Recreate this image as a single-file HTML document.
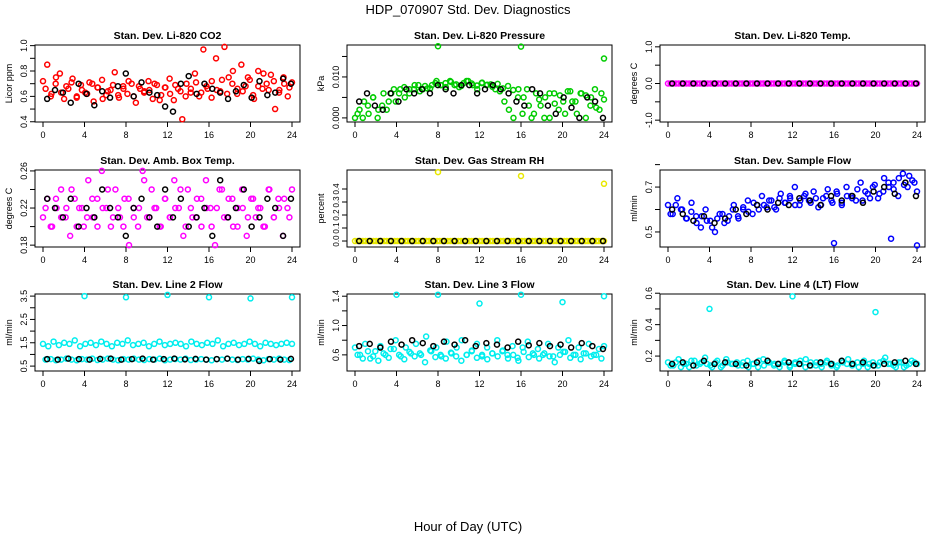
<!DOCTYPE html>
<html><head><meta charset="utf-8"><style>
body{margin:0;background:#fff}
svg{display:block;font-family:"Liberation Sans",sans-serif}
</style></head><body>
<svg id="c" width="936" height="540"></svg>
<script>
const hourTicks=[0,4,8,12,16,20,24];
const titles=["Stan. Dev. Li-820 CO2","Stan. Dev. Li-820 Pressure","Stan. Dev. Li-820 Temp.","Stan. Dev. Amb. Box Temp.","Stan. Dev. Gas Stream RH","Stan. Dev. Sample Flow","Stan. Dev. Line 2 Flow","Stan. Dev. Line 3 Flow","Stan. Dev. Line 4 (LT) Flow"];
const yLabels=["Licor ppm","kPa","degrees C","degrees C","percent","ml/min","ml/min","ml/min","ml/min"];
const yTicks=[[0.4,0.5,0.6,0.7,0.8,0.9,1.0],[0,0.005,0.01,0.015],[-1,-0.5,0,0.5,1],[0.18,0.2,0.22,0.24,0.26],[0,0.1,0.2,0.3,0.4],[0.5,0.6,0.7,0.8],[0.5,1,1.5,2,2.5,3,3.5],[0.6,0.8,1.0,1.2,1.4],[0.2,0.3,0.4,0.5,0.6]];
const yTickLabels=[["0.4","","0.6","","0.8","","1.0"],["0.000","","0.010",""],["-1.0","","0.0","","1.0"],["0.18","","0.22","","0.26"],["0.0","0.1","0.2","0.3","0.4"],["0.5","","0.7",""],["0.5","","1.5","","2.5","","3.5"],["0.6","","1.0","","1.4"],["0.2","","0.4","","0.6"]];
const colors=["#ff0000","#00cc00","#ff00ff","#ff00ff","#e8e800","#0000ff","#00eeee","#00eeee","#00eeee"];
const s1=[0.72,0.85,0.62,0.70,0.78,0.58,0.66,0.74,0.60,0.69,0.63,0.71,0.56,0.67,0.73,0.61,0.65,0.79,0.59,0.68,0.62,0.70,0.55,0.66,0.64,0.72,0.58,0.69,0.61,0.67,0.74,0.57,0.66,0.42,0.70,0.63,0.78,0.60,0.97,0.66,0.72,0.90,0.64,0.99,0.75,0.80,0.62,0.85,0.68,0.73,0.58,0.80,0.66,0.70,0.77,0.50,0.65,0.75,0.60,0.71];
const e1=[0.66,0.60,0.75,0.63,0.68,0.71,0.59,0.65,0.62,0.70,0.67,0.58,0.64,0.69,0.61,0.66,0.72,0.60,0.68,0.63,0.65,0.70,0.57,0.67,0.62,0.69,0.64,0.60,0.66,0.71,0.63,0.68,0.59,0.65,0.73,0.62,0.70,0.66,0.64,0.75,0.61,0.68,0.78,0.65,0.72,0.63,0.70,0.67];
const s2=[0,0.002,0.004,0.001,0.005,0,0.003,0.002,0.006,0.004,0.007,0.005,0.006,0.007,0.008,0.007,0.0072,0.008,0.009,0.008,0.0085,0.009,0.008,0.0075,0.0085,0.009,0.008,0.007,0.0085,0.008,0.0082,0.007,0.0065,0.004,0.002,0,0.005,0.001,0.007,0,0.006,0.003,0.005,0,0.006,0.002,0.004,0.0065,0.004,0.001,0.006,0.0055,0.003,0.007,0.002,0.0045];
const e2=[0.001,0,0.003,0.005,0.002,0.006,0.004,0.007,0.006,0.0075,0.007,0.008,0.0065,0.0078,0.0072,0.0085,0.008,0.0075,0.0088,0.0082,0.0078,0.009,0.0084,0.0079,0.0086,0.0081,0.0076,0.0083,0.0072,0.0078,0.0068,0.007,0.005,0.003,0.001,0.0045,0,0.006,0.0035,0.0055,0.001,0.0065,0.004,0.006,0,0.005,0.0025,0.006];
const s3=[0,0,0,0,0,0,0,0,0,0,0,0,0,0,0,0,0,0,0,0,0,0,0,0,0,0,0,0,0,0,0,0,0,0,0,0,0,0,0,0,0,0,0,0,0,0,0,0];
const e3=[0,0,0,0,0,0,0,0,0,0,0,0,0,0,0,0,0,0,0,0,0,0,0,0,0,0,0,0,0,0,0,0,0,0,0,0,0,0,0,0,0,0,0,0,0,0,0];
const s4=[0.21,0.23,0.20,0.22,0.24,0.21,0.19,0.23,0.22,0.20,0.25,0.21,0.23,0.26,0.22,0.20,0.24,0.21,0.23,0.18,0.22,0.20,0.26,0.21,0.24,0.22,0.20,0.23,0.21,0.25,0.22,0.19,0.24,0.21,0.23,0.20,0.25,0.22,0.18,0.24,0.21,0.23,0.20,0.22,0.24,0.19,0.23,0.21,0.22,0.20,0.24,0.21,0.23,0.19,0.22,0.24];
const e4=[0.22,0.20,0.23,0.21,0.22,0.24,0.20,0.22,0.21,0.23,0.20,0.22,0.24,0.21,0.22,0.20,0.23,0.21,0.22,0.25,0.21,0.22,0.20,0.23,0.21,0.22,0.24,0.20,0.22,0.21,0.23,0.22,0.20,0.22,0.24,0.21,0.23,0.20,0.22,0.21,0.23,0.22,0.20,0.24,0.21,0.22,0.23,0.21];
const s5=[0,0,0,0,0,0,0,0,0,0,0,0,0,0,0,0,0,0,0,0,0,0,0,0,0,0,0,0,0,0,0,0,0,0,0,0,0,0,0,0,0,0,0,0,0,0,0,0];
const e5=[0,0,0,0,0,0,0,0,0,0,0,0,0,0,0,0,0,0,0,0,0,0,0,0,0,0,0,0,0,0,0,0,0,0,0,0,0,0,0,0,0,0,0,0,0,0,0];
const s6=[0.62,0.58,0.65,0.60,0.56,0.63,0.57,0.52,0.60,0.55,0.50,0.58,0.54,0.57,0.62,0.56,0.60,0.64,0.58,0.62,0.66,0.61,0.64,0.60,0.67,0.63,0.65,0.70,0.62,0.66,0.64,0.68,0.61,0.65,0.69,0.63,0.67,0.62,0.70,0.66,0.64,0.72,0.68,0.65,0.71,0.67,0.74,0.70,0.72,0.66,0.76,0.70,0.73,0.68];
const e6=[0.58,0.62,0.6,0.56,0.59,0.54,0.57,0.55,0.52,0.56,0.58,0.55,0.6,0.57,0.61,0.59,0.63,0.6,0.62,0.64,0.61,0.65,0.63,0.66,0.62,0.64,0.67,0.63,0.65,0.62,0.66,0.64,0.68,0.63,0.66,0.65,0.69,0.64,0.67,0.7,0.65,0.68,0.72,0.69,0.74,0.71,0.75,0.72];
const s7=[1.45,1.35,1.55,1.4,1.5,1.45,1.6,1.35,1.45,1.5,1.4,1.55,1.45,1.35,1.5,1.45,1.6,1.4,1.45,1.5,1.35,1.45,1.55,1.4,1.45,1.5,1.45,1.35,1.55,1.45,1.4,1.5,1.45,1.6,1.35,1.45,1.5,1.4,1.45,1.55,1.45,1.35,1.5,1.45,1.4,1.45,1.5,1.45];
const e7=[0.78,0.8,0.75,0.78,0.82,0.78,0.75,0.8,0.78,0.82,0.76,0.78,0.82,0.78,0.75,0.8,0.78,0.82,0.78,0.76,0.8,0.78,0.82,0.75,0.78,0.8,0.78,0.82,0.76,0.78,0.8,0.78,0.75,0.8,0.78,0.82,0.78,0.76,0.8,0.78,0.82,0.78,0.75,0.8,0.78,0.82,0.78,0.76];
const s8=[0.7,0.6,0.75,0.55,0.65,0.72,0.6,0.68,0.8,0.58,0.7,0.62,0.75,0.6,0.85,0.65,0.7,0.58,0.78,0.62,0.7,0.8,0.6,0.66,0.75,0.58,0.7,0.62,0.8,0.65,0.6,0.72,0.56,0.7,0.78,0.62,0.68,0.6,0.75,0.58,0.7,0.64,0.8,0.6,0.7,0.62,0.75,0.6,0.68,0.72];
const e8=[0.6,0.55,0.65,0.58,0.52,0.62,0.56,0.68,0.6,0.54,0.64,0.58,0.62,0.5,0.66,0.57,0.6,0.55,0.63,0.58,0.52,0.6,0.65,0.56,0.6,0.54,0.62,0.58,0.66,0.55,0.6,0.52,0.64,0.57,0.6,0.55,0.62,0.58,0.5,0.6,0.64,0.56,0.6,0.54,0.62,0.58,0.6,0.55];
const s9=[0.16,0.14,0.18,0.15,0.13,0.17,0.15,0.19,0.14,0.16,0.13,0.18,0.15,0.16,0.14,0.17,0.15,0.13,0.18,0.16,0.14,0.15,0.17,0.13,0.16,0.15,0.18,0.14,0.16,0.13,0.17,0.15,0.14,0.16,0.18,0.15,0.13,0.17,0.15,0.14,0.16,0.19,0.15,0.13,0.16,0.14,0.17,0.15];
const e9=[0.14,0.16,0.13,0.15,0.17,0.14,0.16,0.15,0.13,0.17,0.14,0.16,0.15,0.14,0.16,0.13,0.15,0.17,0.14,0.16,0.15,0.13,0.16,0.14,0.15,0.17,0.13,0.16,0.14,0.15,0.16,0.14,0.13,0.17,0.15,0.14,0.16,0.15,0.13,0.16,0.14,0.17,0.15,0.14,0.16,0.13,0.15,0.16];
const b1=[0.58,0.65,0.63,0.55,0.70,0.62,0.53,0.64,0.59,0.68,0.78,0.60,0.71,0.63,0.61,0.52,0.48,0.70,0.76,0.62,0.70,0.66,0.63,0.58,0.64,0.69,0.59,0.72,0.61,0.63,0.74,0.70];
const b2=[0.004,0.006,0.003,0.002,0.006,0.004,0.007,0.006,0.007,0.006,0.008,0.007,0.006,0.008,0.008,0.006,0.007,0.008,0.007,0.006,0.004,0.003,0.007,0.006,0.003,0.001,0.005,0.0025,0,0.005,0.004,0];
const b3=[0,0,0,0,0,0,0,0,0,0,0,0,0,0,0,0,0,0,0,0,0,0,0,0];
const b4=[0.23,0.22,0.21,0.23,0.20,0.22,0.21,0.24,0.22,0.21,0.19,0.22,0.23,0.21,0.20,0.24,0.21,0.23,0.20,0.21,0.22,0.19,0.25,0.21,0.22,0.24,0.20,0.21,0.23,0.22,0.19,0.23];
const b5=[0,0,0,0,0,0,0,0,0,0,0,0,0,0,0,0,0,0,0,0,0,0,0,0];
const b6=[0.6,0.58,0.55,0.57,0.54,0.56,0.6,0.58,0.62,0.6,0.63,0.62,0.65,0.64,0.62,0.66,0.64,0.66,0.63,0.68,0.7,0.67,0.72,0.66];
const b7=[0.8,0.78,0.82,0.8,0.78,0.81,0.82,0.78,0.8,0.82,0.78,0.8,0.82,0.79,0.81,0.78,0.8,0.82,0.78,0.81,0.72,0.8,0.78,0.81];
const b8=[0.72,0.75,0.7,0.78,0.74,0.8,0.76,0.72,0.78,0.74,0.8,0.72,0.76,0.74,0.7,0.78,0.73,0.76,0.72,0.74,0.7,0.76,0.72,0.68];
const b9=[0.15,0.16,0.14,0.17,0.15,0.16,0.15,0.14,0.16,0.17,0.15,0.16,0.15,0.14,0.16,0.15,0.17,0.15,0.16,0.14,0.15,0.16,0.17,0.15];
const outHours=[[],[8,16,24],[],[],[8,16,24],[16,21.5,24],[4,8,12,16,20,24],[4,8,12,16,20,24],[4,12,20]];
const outVals=[[],[0.0175,0.0174,0.0145],[],[],[0.53,0.5,0.44],[0.45,0.47,0.44],[3.5,3.45,3.55,3.45,3.4,3.45],[1.42,1.42,1.3,1.42,1.32,1.4],[0.5,0.58,0.48]];
const colorSeries=[s1,s2,s3,s4,s5,s6,s7,s8,s9];
const extraSeries=[e1,e2,e3,e4,e5,e6,e7,e8,e9];
const blackSeries=[b1,b2,b3,b4,b5,b6,b7,b8,b9];
const yLims=[[0.398,1.005],[-0.001,0.0178],[-1.05,1.05],[0.178,0.261],[-0.046,0.546],[0.433,0.776],[0.29,3.59],[0.38,1.43],[0.105,0.595]];

const NS="http://www.w3.org/2000/svg";
const svg=document.getElementById('c');
function mk(t,a,p){const e=document.createElementNS(NS,t);for(const k in a)e.setAttribute(k,a[k]);(p||svg).appendChild(e);return e;}
const lefts=[35,347,660],tops=[45,170,294],W=265,H=77;
let t=mk('text',{x:468,y:14,'text-anchor':'middle','font-size':13});t.textContent="HDP_070907  Std. Dev. Diagnostics";


t=mk('text',{x:468,y:531,'text-anchor':'middle','font-size':13});t.textContent="Hour of Day (UTC)";


for(let p=0;p<9;p++){
  const L=lefts[p%3],T=tops[Math.floor(p/3)];
  const g=mk('g',{});
  
  
  const [lo,hi]=yLims[p];
  const xs=h=>L+8+h/24*(W-16);
  const ys=v=>T+H-(v-lo)/(hi-lo)*H;
  mk('rect',{x:L,y:T,width:W,height:H,fill:'none',stroke:'#000','stroke-width':1},g);
  let tt=mk('text',{x:L+W/2,y:T-6,'text-anchor':'middle','font-size':10.5,'font-weight':'bold'},g);tt.textContent=titles[p];
  
  
  let yl=mk('text',{transform:`translate(${L-23},${T+H/2}) rotate(-90)`,'text-anchor':'middle','font-size':9},g);yl.textContent=yLabels[p];
  
  
  hourTicks.forEach(h=>{const x=xs(h);mk('line',{x1:x,x2:x,y1:T+H,y2:T+H+5,stroke:'#000'},g);
    const l=mk('text',{x:x,y:T+H+16,'text-anchor':'middle','font-size':9},g);l.textContent=h;
    
    });
  yTicks[p].forEach((v,i)=>{const y=ys(v);mk('line',{x1:L-5,x2:L,y1:y,y2:y,stroke:'#000'},g);
    const lab=yTickLabels[p][i];if(lab){const l=mk('text',{transform:`translate(${L-8},${y}) rotate(-90)`,'text-anchor':'middle','font-size':p===4?8:9},g);l.textContent=lab;
    
    }});
  [colorSeries[p],extraSeries[p]].forEach((cs,k)=>{
    cs.forEach((v,i)=>{const c=mk('circle',{cx:xs((k*0.25)+i*(24-k*0.5)/(cs.length-1)),cy:ys(v),r:2.5,fill:'none',stroke:colors[p],'stroke-width':1.5},g);
      
      });
  });
  outHours[p].forEach((h,i)=>{const c=mk('circle',{cx:xs(h),cy:ys(outVals[p][i]),r:2.5,fill:'none',stroke:colors[p],'stroke-width':1.5},g);
    
    });
  const bs=blackSeries[p];
  bs.forEach((v,i)=>{const c=mk('circle',{cx:xs(0.4+i*23.5/(bs.length-1)),cy:ys(v),r:2.5,fill:'none',stroke:'#000','stroke-width':1.5},g);
    
    });
}
</script>
</body></html>
